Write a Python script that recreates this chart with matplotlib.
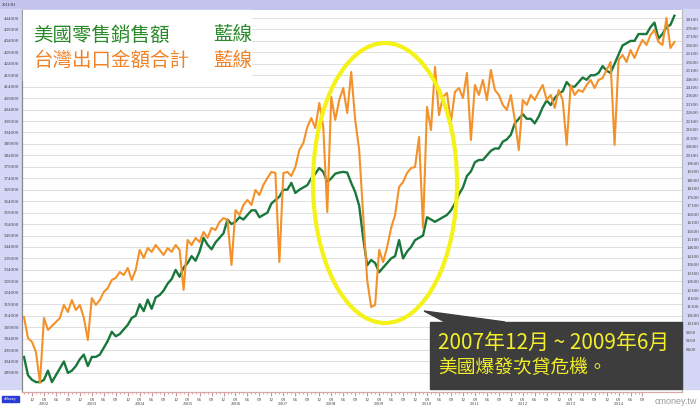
import numpy as np
import matplotlib.pyplot as plt
from matplotlib.patches import Rectangle, Ellipse, Polygon

plt.rcParams['font.family'] = ['Noto Sans CJK TC', 'DejaVu Sans']

# monthly data, first point = 2001/10
start_year, start_month = 2001, 10

# 美國零售銷售額 (left axis)
us_retail = [296, 288, 286,
             285, 285, 286, 290, 285, 288, 291, 294, 289, 290, 292, 295,
             297, 292, 296, 296, 297, 300, 303, 307, 305, 306, 308, 310,
             313, 314, 319, 316, 321, 317, 322, 323, 325, 328, 330, 334,
             331, 335, 337, 340, 338, 342, 348, 345, 343, 346, 348, 350,
             356, 354, 355, 357, 356, 358, 360, 360, 357, 358, 359, 363,
             364.5, 366, 369, 369, 372, 367.6, 369, 370, 371, 374, 376, 378.5,
             376.8, 372.4, 374, 376, 376.5, 376.8, 376.5, 372, 368, 362, 348, 336,
             338.3, 337, 333, 335, 337, 339, 340, 347, 339, 342, 344, 347,
             348, 349, 357, 356, 355, 356, 357, 358, 360, 363, 367, 370,
             375, 377, 381, 382, 382, 384, 386, 387, 387, 390, 391, 393,
             398, 400, 402, 400, 400, 398, 401, 405, 408, 406, 409, 411,
             412, 416, 414, 414, 416, 418, 417, 419, 419, 420, 423, 421,
             420, 424, 428, 432, 433, 434, 434, 437, 437, 437, 440, 442,
             435, 437, 440, 441, 445]
us_retail = [v * 1000 for v in us_retail]

# 台灣出口金額合計 (right axis)
tw_export = [10510, 9260, 9030, 8430, 6600, 10450, 9740, 9970, 10210, 10450, 11220, 10800,
             11510, 10920, 11220, 10450, 9140, 11630, 11220, 11510, 11990, 12220, 12700, 12820,
             13170, 12990, 13410, 12700, 13290, 14480, 14000, 14590, 14360, 14770, 14480, 14180,
             14590, 14360, 14770, 14480, 12110, 15070, 14770, 15190, 14950, 15540, 15190, 15780,
             15660, 16130, 16370, 16250, 13590, 16840, 16550, 17140, 17440, 17140, 18030, 17730,
             18330, 18740, 19100, 19040, 13760, 19040, 19100, 18860, 19390, 20400, 20810, 21760,
             22290, 21700, 23180, 21760, 16730, 23540, 22180, 23360, 24070, 22590, 25020, 22180,
             20400, 16550, 12700, 11100, 11220, 14480, 13760, 14650, 15780, 16550, 18210, 18500,
             19040, 19330, 19390, 21170, 15780, 22950, 21580, 25320, 22470, 23540, 23780, 22060,
             23840, 24070, 23480, 24960, 20990, 24250, 23660, 24550, 23360, 25140, 23950, 23660,
             23070, 22770, 23660, 22180, 20400, 23360, 23070, 23660, 23360, 23840, 24250, 23360,
             23660, 22890, 23950, 23360, 20700, 24250, 23660, 23950, 23840, 24250, 24550, 24070,
             24550, 24660, 25140, 25610, 20700, 25730, 26030, 25610, 26320, 25850, 26440, 26920,
             26620, 27210, 27510, 26800, 26620, 28220, 26440, 26800]

left_ticks = list(range(289000, 444001, 5000))
right_ticks = list(range(8600, 28101, 500))

W, H = 700, 407
fig = plt.figure(figsize=(7, 4.07), dpi=100)

# background frame
bg = fig.add_axes([0, 0, 1, 1], zorder=-5)
bg.set_xlim(0, W); bg.set_ylim(H, 0); bg.axis('off')
bg.add_patch(Rectangle((0, 0), W, 9, color='#c3c3ee'))
bg.add_patch(Rectangle((0, 9), 22, 380, color='#d6d6f6'))
bg.add_patch(Rectangle((682, 9), 18, 380, color='#d6d6f6'))
bg.text(2, 4.5, '2011/01', fontsize=3.2, va='center', family='Liberation Serif', color='#222')
bg.add_patch(Rectangle((2, 396), 17, 6, color='#2a3ad6'))
bg.text(10.5, 399, 'cMoney', fontsize=2.6, color='white', ha='center', va='center',
        family='Liberation Sans')
bg.text(697, 401, 'cmoney.tw', fontsize=6.5, color='#9a9a9a', ha='right', va='center',
        family='Liberation Sans')

ax = fig.add_axes([22 / W, 15 / H, 660 / W, 382 / H])
ax2 = ax.twinx()

x1 = np.arange(len(us_retail))
x2 = np.arange(len(tw_export))
ax.plot(x1, us_retail, color='#1a773c', lw=1.7)
ax2.plot(x2, tw_export, color='#f3912a', lw=1.5)

ax.set_xlim(-0.5, 164.9)
ax.set_ylim(280674, 447494)
ax2.set_ylim(6063, 28692)

ax.set_yticks(left_ticks)
ax.set_yticklabels([str(v) for v in left_ticks], fontsize=3.6, family='Liberation Serif', color='#444')
ax2.set_yticks(right_ticks)
ax2.set_yticklabels([str(v) for v in right_ticks], fontsize=3.6, family='Liberation Serif', color='#444')
ax.tick_params(axis='y', length=0, pad=2)
ax2.tick_params(axis='y', length=0, pad=3)
ax.grid(axis='y', color='#dedede', lw=0.7)

# x ticks: quarterly labels up to 2014/09
pos, labs = [], []
for i in range(len(tw_export)):
    y = start_year + (start_month - 1 + i) // 12
    m = (start_month - 1 + i) % 12 + 1
    if m % 3 == 0 and (y, m) <= (2014, 9):
        pos.append(i)
        labs.append('%02d\n%d' % (m, y) if m == 3 else '%02d\n' % m)
ax.set_xticks(pos)
ax.set_xticklabels(labs, fontsize=3.6, family='Liberation Serif', color='#444', linespacing=1.0)
ax.set_xticks(np.arange(0, 156), minor=True)
ax.tick_params(axis='x', which='major', length=3, color='#c99', pad=1)
ax.tick_params(axis='x', which='minor', length=1.5, color='#c99')

for a in (ax, ax2):
    a.spines['top'].set_visible(False)
    a.spines['right'].set_color('#bbbbbb')
    a.spines['left'].set_color('#888888')
    a.spines['bottom'].set_color('#d8a8a8')

# overlay: legend text, circle, callout
ov = fig.add_axes([0, 0, 1, 1], zorder=10)
ov.set_xlim(0, W); ov.set_ylim(H, 0); ov.axis('off')
ov.add_patch(Rectangle((23, 10), 228, 70, color='white'))
ov.text(33, 35, '美國零售銷售額', fontsize=14, color='#2a8a2a', va='center')
ov.text(213, 35, '藍線', fontsize=14, color='#2a8a2a', va='center')
ov.text(33, 60, '台灣出口金額合計', fontsize=14, color='#f08228', va='center')
ov.text(213, 60, '藍線', fontsize=14, color='#f08228', va='center')

ov.add_patch(Ellipse((385, 183), 144, 280, fill=False, ec='#f4f218', lw=3))

ov.add_patch(Polygon([(424, 311), (445, 322), (505, 322)], closed=True, color='#3d3d3d'))
ov.add_patch(Rectangle((430, 322), 252, 67, color='#3d3d3d'))
ov.text(438, 343, '2007年12月 ~ 2009年6月', fontsize=15, color='#f2ee2a', va='center')
ov.text(438, 367, '美國爆發次貸危機。', fontsize=13.5, color='#f2ee2a', va='center')

fig.savefig('out.png', dpi=100)
